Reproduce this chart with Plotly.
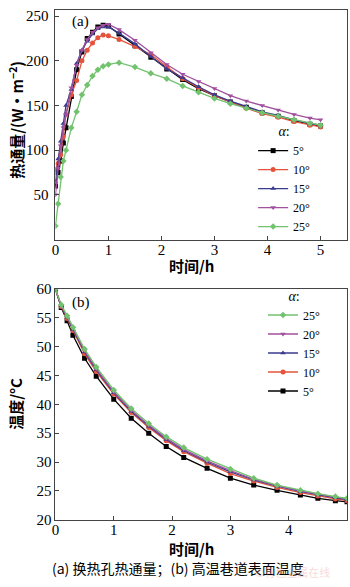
import plotly.graph_objects as go

# ---------------- data ----------------
# (a) heat flux through heat-exchange hole, W/m^2
t_a = [0, 0.05, 0.1, 0.15, 0.2, 0.3, 0.4, 0.5, 0.6, 0.7, 0.8, 0.9, 1.0, 1.2, 1.5,
       1.8, 2.1, 2.4, 2.7, 3.0, 3.3, 3.6, 3.9, 4.2, 4.5, 4.8, 5.0]
q_5 = [60, 75, 88, 108, 125, 160, 190, 210, 225, 232, 238, 240, 239, 230, 217,
       204, 191, 179, 169, 161, 154, 148, 142, 138, 133, 129, 127]
q_10 = [78, 85, 95, 115, 140, 162, 178, 200, 212, 220, 226, 229, 228, 224, 216,
        207, 193, 180, 170, 161, 154, 147, 141, 137, 132, 128, 126]
q_15 = [65, 90, 110, 130, 150, 168, 197, 212, 222, 230, 236, 238, 238, 231, 219,
        205, 191, 181, 171, 162, 155, 149, 143, 139, 134, 130, 128]
q_20 = [50, 80, 105, 125, 140, 170, 195, 212, 224, 232, 237, 240, 241, 235, 223,
        209, 196, 185, 177, 169, 161, 155, 150, 145, 140, 136, 134]
q_25 = [15, 40, 70, 88, 100, 125, 143, 162, 173, 183, 190, 194, 196, 198, 193,
        186, 180, 172, 165, 158, 152, 147, 142, 138, 134, 130, 128]

# (b) roadway surface temperature, deg C
t_b = [0, 0.1, 0.2, 0.3, 0.5, 0.7, 1.0, 1.3, 1.6, 1.9, 2.2, 2.6, 3.0, 3.4, 3.8,
       4.2, 4.5, 4.8, 5.0]
T_5 = [60, 56.8, 54.5, 52.0, 48.0, 44.9, 40.9, 37.6, 35.0, 32.7, 30.8, 28.9, 27.2,
       26.0, 25.1, 24.3, 23.7, 23.3, 23.1]
T_10 = [60, 57.0, 54.9, 52.8, 48.8, 45.7, 41.8, 38.6, 36.0, 33.7, 31.8, 29.8, 28.0,
        26.7, 25.6, 24.7, 24.1, 23.6, 23.3]
T_15 = [60, 57.1, 55.1, 53.0, 49.1, 46.0, 42.0, 38.8, 36.2, 33.9, 32.0, 30.0, 28.3,
        26.9, 25.8, 24.9, 24.3, 23.8, 23.5]
T_20 = [60, 57.2, 55.2, 53.2, 49.3, 46.2, 42.2, 39.0, 36.4, 34.1, 32.2, 30.2, 28.5,
        27.0, 25.9, 25.0, 24.4, 23.9, 23.6]
T_25 = [60, 57.3, 55.4, 53.4, 49.6, 46.5, 42.5, 39.3, 36.7, 34.4, 32.5, 30.5, 28.8,
        27.2, 26.0, 25.1, 24.5, 24.0, 23.7]

labels = ["5°", "10°", "15°", "20°", "25°"]
colors = ["#000000", "#e5533d", "#3b3b8f", "#a0509e", "#72c26f"]
symbols = ["square", "circle", "triangle-up", "triangle-down", "diamond"]

x_ticks_a = [0, 1, 2, 3, 4, 5]
y_ticks_a = [50, 100, 150, 200, 250]
y_ticks_b = [20, 25, 30, 35, 40, 45, 50, 55, 60]

# ---------------- figure ----------------
W, H = 350, 587
SERIF = "Liberation Serif, Times New Roman, serif"
CJK = "Noto Sans CJK SC, sans-serif"

fig = go.Figure()

for lab, col, sym, q in zip(labels, colors, symbols, [q_5, q_10, q_15, q_20, q_25]):
    fig.add_trace(go.Scatter(
        x=t_a, y=q, name=lab, mode="lines+markers",
        line=dict(color=col, width=1.3),
        marker=dict(symbol=sym, size=5, color=col),
        xaxis="x", yaxis="y", legend="legend"))

for lab, col, sym, T in zip(labels, colors, symbols, [T_5, T_10, T_15, T_20, T_25]):
    fig.add_trace(go.Scatter(
        x=t_b, y=T, name=lab, mode="lines+markers",
        line=dict(color=col, width=1.3),
        marker=dict(symbol=sym, size=5, color=col),
        xaxis="x2", yaxis="y2", legend="legend2"))


def px_x(p):
    return p / W


def px_y(p):
    return 1 - p / H


axis_common = dict(
    showline=True, linecolor="#444", linewidth=1, mirror=True,
    ticks="inside", ticklen=4, tickcolor="#444", showgrid=False, zeroline=False,
    tickfont=dict(family=SERIF, size=15, color="#000"),
)

legend_common = dict(
    xanchor="left", yanchor="top",
    bgcolor="rgba(0,0,0,0)", itemwidth=30,
    font=dict(family=SERIF, size=12, color="#000"),
    title=dict(text="<i>α</i>:", side="top center",
               font=dict(family=SERIF, size=14, color="#000")),
)

fig.update_layout(
    width=W, height=H,
    margin=dict(l=0, r=0, t=0, b=0),
    paper_bgcolor="white", plot_bgcolor="white",
    xaxis=dict(domain=[px_x(52), px_x(347)], anchor="y", range=[0, 5.5],
               tickvals=x_ticks_a, ticklabelstandoff=-4, **axis_common),
    yaxis=dict(domain=[px_y(238), px_y(2)], anchor="x", range=[0, 257],
               tickvals=y_ticks_a, ticklabelstandoff=3, **axis_common),
    xaxis2=dict(domain=[px_x(52), px_x(347)], anchor="y2", range=[0, 5],
                tickvals=x_ticks_a, ticklabelstandoff=-4, **axis_common),
    yaxis2=dict(domain=[px_y(526), px_y(289)], anchor="x2", range=[20, 60],
                tickvals=y_ticks_b, **axis_common),
    legend=dict(x=px_x(252), y=px_y(113), traceorder="normal", **legend_common),
    legend2=dict(x=px_x(262), y=px_y(282), traceorder="reversed", **legend_common),
    showlegend=True,
)

ann_font_b = dict(family=CJK, size=15, color="#000", weight="bold")


def ann(text, x, y, font, angle=0):
    return dict(text=text, x=px_x(x), y=px_y(y), xref="paper", yref="paper",
                xanchor="center", yanchor="middle", showarrow=False,
                textangle=angle, font=font)


annotations = [
    ann("(a)", 77, 14, dict(family=SERIF, size=15, color="#000")),
    ann("(b)", 78, 303, dict(family=SERIF, size=15, color="#000")),
    ann("热通量/(W·m<sup>−2</sup>)", 12, 115, ann_font_b, -90),
    ann("时间/h", 190, 265, ann_font_b),
    ann("温度/°C", 12, 407, ann_font_b, -90),
    ann("时间/h", 190, 556, ann_font_b),
    ann("(a) 换热孔热通量；(b) 高温巷道表面温度", 176, 576,
        dict(family=CJK, size=14, color="#000")),
    ann("©有色金属在线", 292, 580,
        dict(family=CJK, size=11, color="rgba(235,160,160,0.4)")),
]
fig.update_layout(annotations=annotations)

fig.write_html("out.html")
